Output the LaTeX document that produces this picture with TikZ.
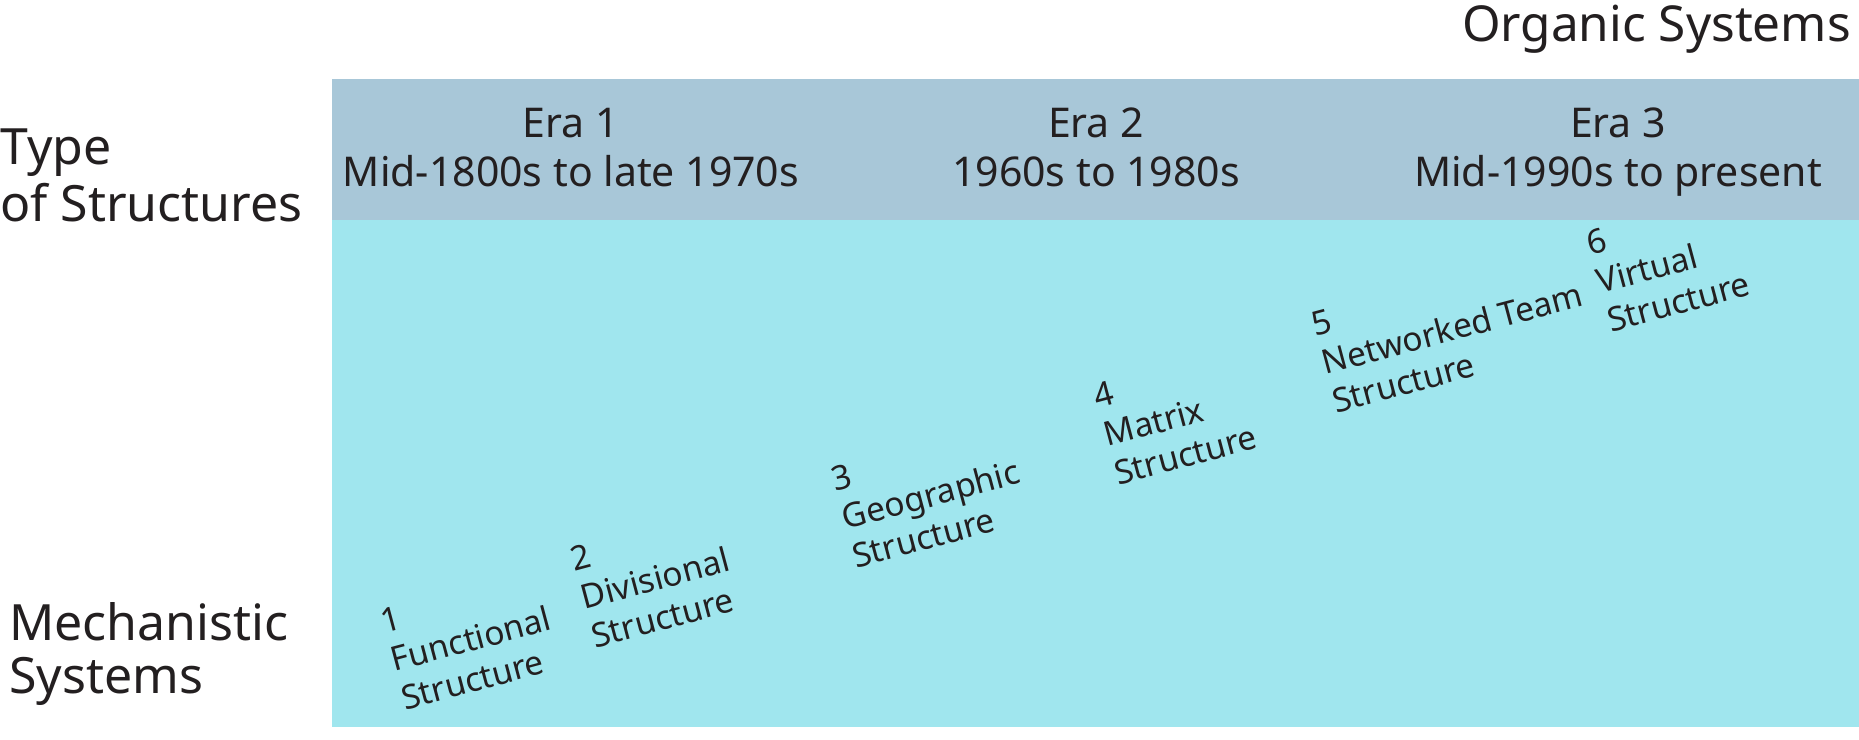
\documentclass[tikz,border=0pt]{standalone}
\usepackage{fontspec}
\setmainfont{Noto Sans}
\definecolor{hdr}{RGB}{168,199,216}
\definecolor{bdy}{RGB}{160,230,238}
\definecolor{ink}{RGB}{35,31,32}
\begin{document}
\begin{tikzpicture}[x=1pt,y=1pt,
  every node/.style={inner sep=0pt, text=ink},
  sidelbl/.style={align=left, anchor=base west},
  eralbl/.style={font=\fontsize{41}{49}\selectfont, align=center, anchor=base},
  structlbl/.style={font=\fontsize{33.5}{40}\selectfont, align=left, anchor=base west, rotate=15}]
\useasboundingbox (0,0) rectangle (1859,739);
\fill[bdy] (332,12) rectangle (1859,519);
\fill[hdr] (332,519) rectangle (1859,660);
% side labels (anchor = baseline of last line)
\node[sidelbl, font=\fontsize{50}{57}\selectfont] (type) at (0,517) {Type\\of Structures};
\node[sidelbl, font=\fontsize{50}{53}\selectfont] (mech) at (9,46) {Mechanistic\\Systems};
\node[anchor=base east, font=\fontsize{49.5}{57}\selectfont] (org) at (1851,697) {Organic Systems};
% eras
\node[eralbl] (era1) at (571,552) {Era 1\\Mid-1800s to late 1970s};
\node[eralbl] (era2) at (1096,552) {Era 2\\1960s to 1980s};
\node[eralbl] (era3) at (1618,552) {Era 3\\Mid-1990s to present};
% structures
\node[structlbl] (s1) at (405,28.5) {1\\Functional\\Structure};
\node[structlbl] (s2) at (595,90.5) {2\\Divisional\\Structure};
\node[structlbl] (s3) at (856,170.5) {3\\Geographic\\Structure};
\node[structlbl] (s4) at (1118,253.5) {4\\Matrix\\Structure};
\node[structlbl] (s5) at (1336,325.5) {5\\Networked Team\\Structure};
\node[structlbl] (s6) at (1611,406.5) {6\\Virtual\\Structure};
\end{tikzpicture}
\end{document}
